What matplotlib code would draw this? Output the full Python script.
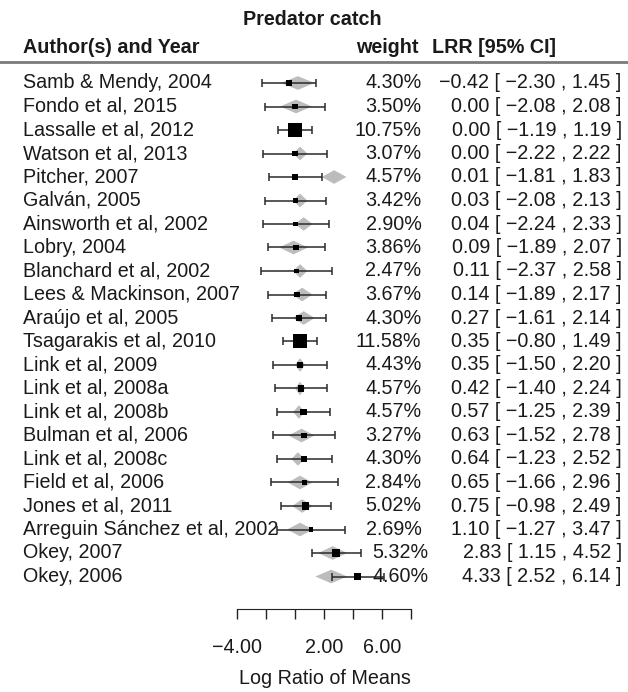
import matplotlib
matplotlib.use("Agg")
import matplotlib.pyplot as plt
import numpy as np

plt.rcParams['font.family'] = ['Liberation Sans', 'DejaVu Sans']

# Datos de los estudios (log ratio of means)
estudios = ["Samb & Mendy, 2004", "Fondo et al, 2015", "Lassalle et al, 2012",
            "Watson et al, 2013", "Pitcher, 2007", "Galván, 2005",
            "Ainsworth et al, 2002", "Lobry, 2004", "Blanchard et al, 2002",
            "Lees & Mackinson, 2007", "Araújo et al, 2005", "Tsagarakis et al, 2010",
            "Link et al, 2009", "Link et al, 2008a", "Link et al, 2008b",
            "Bulman et al, 2006", "Link et al, 2008c", "Field et al, 2006",
            "Jones et al, 2011", "Arreguin Sánchez et al, 2002", "Okey, 2007", "Okey, 2006"]
pesos = [4.30, 3.50, 10.75, 3.07, 4.57, 3.42, 2.90, 3.86, 2.47, 3.67, 4.30,
         11.58, 4.43, 4.57, 4.57, 3.27, 4.30, 2.84, 5.02, 2.69, 5.32, 4.60]
lrr = [-0.42, 0.00, 0.00, 0.00, 0.01, 0.03, 0.04, 0.09, 0.11, 0.14, 0.27,
       0.35, 0.35, 0.42, 0.57, 0.63, 0.64, 0.65, 0.75, 1.10, 2.83, 4.33]
ci_inf = [-2.30, -2.08, -1.19, -2.22, -1.81, -2.08, -2.24, -1.89, -2.37, -1.89, -1.61,
          -0.80, -1.50, -1.40, -1.25, -1.52, -1.23, -1.66, -0.98, -1.27, 1.15, 2.52]
ci_sup = [1.45, 2.08, 1.19, 2.22, 1.83, 2.13, 2.33, 2.07, 2.58, 2.17, 2.14,
          1.49, 2.20, 2.24, 2.39, 2.78, 2.52, 2.96, 2.49, 3.47, 4.52, 6.14]

# valores ajustados del modelo (rombos grises)
ajuste = [0.20, 0.07, 0.00, 0.35, 2.70, 0.35, 0.60, -0.10, 0.35, 0.50, 0.60,
          0.35, 0.35, 0.35, 0.27, 0.45, 0.20, 0.35, 0.50, 0.35, 2.60, 2.50]
ajuste_inf = [-0.95, -1.03, -0.30, -0.15, 1.85, -0.15, 0.00, -1.10, -0.15, -0.20, -0.15,
              0.05, 0.00, 0.00, -0.13, -0.45, -0.25, -0.50, -0.20, -0.55, 1.60, 1.40]
ajuste_sup = [1.35, 1.17, 0.30, 0.85, 3.55, 0.85, 1.20, 0.90, 0.85, 1.20, 1.35,
              0.65, 0.70, 0.70, 0.67, 1.35, 0.65, 1.20, 1.20, 1.25, 3.60, 3.60]

ticks = [-4, -2, 0, 2, 4, 6, 8]
tick_labels = ["\u22124.00", "", "", "2.00", "", "6.00", ""]

n = len(estudios)
filas = np.arange(n)
txt = '#1a1a1a'

fig = plt.figure(figsize=(6.28, 6.92), dpi=100)
ax = fig.add_axes([0, 0, 1, 1])
ax.set_xlim(-295 / 14.5, (628 - 295) / 14.5)
ax.set_ylim((692 - 83) / 23.5, -83 / 23.5)

# rombos del ajuste
h = 0.29
for i in range(n):
    ax.fill([ajuste_inf[i], ajuste[i], ajuste_sup[i], ajuste[i]],
            [filas[i], filas[i] - h, filas[i], filas[i] + h],
            color='#bcbcbc', lw=0, zorder=1)

# intervalos de confianza
ax.errorbar(lrr, filas, xerr=[np.array(lrr) - np.array(ci_inf), np.array(ci_sup) - np.array(lrr)],
            fmt='none', ecolor='#2a2a2a', elinewidth=1.1, capsize=3, capthick=1.1, zorder=2)

# cuadrados proporcionales al peso
w = np.array(pesos)
lado = (4.5 + (w - w.min()) / (w.max() - w.min()) * 9.5) * 0.72
ax.scatter(lrr, filas, s=lado ** 2, marker='s', color='black', lw=0, zorder=3)

# columnas de texto
fs = 14.2
tr = ax.get_yaxis_transform()
for i in range(n):
    ax.text(0.037, filas[i], estudios[i], transform=tr,
            ha='left', va='center', fontsize=fs, color=txt, zorder=4)
    xp = 0.671 if i < n - 2 else 0.682
    ax.text(xp, filas[i], "%.2f%%" % pesos[i], transform=tr,
            ha='right', va='center', fontsize=fs, color=txt, zorder=4)
    s = "%.2f [ %.2f , %.2f ]" % (lrr[i], ci_inf[i], ci_sup[i])
    ax.text(0.990, filas[i], s.replace('-', '\u2212'), transform=tr,
            ha='right', va='center', fontsize=fs, color=txt, zorder=4)

ax.text(0.498, -2.72, "Predator catch", transform=tr, ha='center', va='center',
        fontsize=fs, fontweight='bold', color=txt)
ax.text(0.037, -1.53, "Author(s) and Year", transform=tr, ha='left', va='center',
        fontsize=fs, fontweight='bold', color=txt)
ax.text(0.666, -1.53, "weight", transform=tr, ha='right', va='center',
        fontsize=fs, fontweight='bold', color=txt)
ax.text(0.688, -1.53, "LRR [95% CI]", transform=tr, ha='left', va='center',
        fontsize=fs, fontweight='bold', color=txt)
ax.axhline(-0.89, color='#7a7a7a', lw=2)

# eje inferior
for k in ['top', 'left', 'right']:
    ax.spines[k].set_visible(False)
ax.spines['bottom'].set_position(('data', (609 - 83) / 23.5))
ax.spines['bottom'].set_bounds(ticks[0], ticks[-1])
ax.spines['bottom'].set_color('#222222')
ax.set_xticks(ticks)
ax.set_xticklabels(tick_labels)
ax.tick_params(axis='x', direction='out', length=7, width=1, pad=14,
               labelsize=fs, labelcolor=txt, color='#222222')
ax.set_yticks([])
ax.text(0.518, (679 - 83) / 23.5, "Log Ratio of Means", transform=tr, ha='center',
        va='center', fontsize=fs, color=txt)

fig.savefig("out.png", dpi=100)
